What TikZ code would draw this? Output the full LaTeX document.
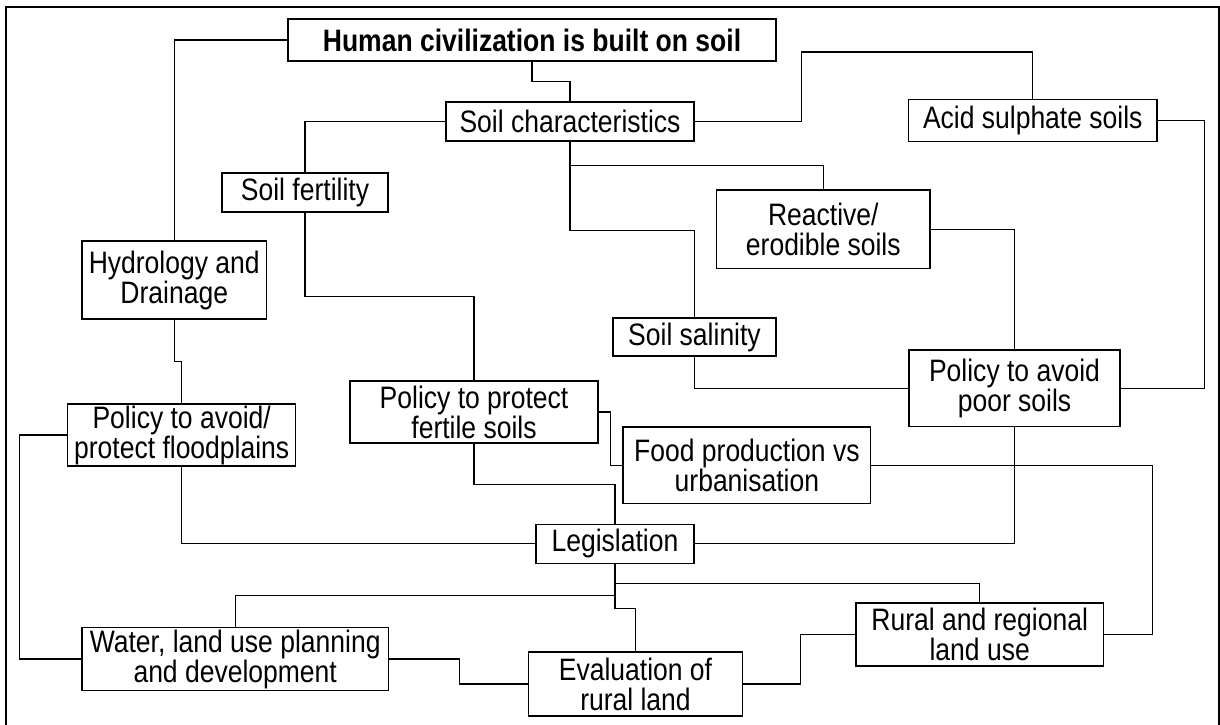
\documentclass[tikz,border=0pt]{standalone}
\usepackage{fontspec}
\setmainfont{Liberation Sans}
\newfontfamily\boxfont[FakeStretch=0.855]{Liberation Sans}
\usetikzlibrary{calc}
\tikzstyle{box}=[rectangle,draw=black,fill=white,line width=0.7pt,inner sep=0pt,
  align=center,font=\boxfont\fontsize{15.5}{15}\selectfont]
\tikzstyle{link}=[line width=0.55pt]
\tikzstyle{frame}=[line width=0.65pt]
\begin{document}
\begin{tikzpicture}[x=0.5pt, y=-0.5pt]
            \useasboundingbox (0,0) rectangle (1220,724);
            \draw [style=frame] (6,726) -- (6,7) -- (1219,7) -- (1219,726);
            \node [style=box, minimum width=244pt, minimum height=21pt] (hum) at (532, 40) {\textbf{Human civilization is built on soil}};
            \node [style=box, minimum width=124pt, minimum height=19.5pt] (soilchar) at (570, 121.5) {Soil characteristics};
            \node [style=box, minimum width=83pt, minimum height=19.5pt] (fert) at (305, 192.5) {Soil fertility};
            \node [style=box, minimum width=92.25pt, minimum height=39pt] (hydro) at (174.25, 280) {Hydrology and\\Drainage};
            \node [style=box, minimum width=124.25pt, minimum height=21pt] (acid) at (1032.75, 120.3) {Acid sulphate soils};
            \node [style=box, minimum width=106.7pt, minimum height=39.15pt] (reactive) at (823.3, 229.2) {Reactive/\\erodible soils};
            \node [style=box, minimum width=81.5pt, minimum height=19pt] (salinity) at (694.5, 337) {Soil salinity};
            \node [style=box, minimum width=105.5pt, minimum height=38.15pt] (poor) at (1014.5, 388.2) {Policy to avoid\\poor soils};
            \node [style=box, minimum width=124pt, minimum height=31pt] (protect) at (474, 412) {Policy to protect\\fertile soils};
            \node [style=box, minimum width=123.85pt, minimum height=38.35pt] (food) at (746.9, 465.3) {Food production vs\\urbanisation};
            \node [style=box, minimum width=114pt, minimum height=31pt] (flood) at (181.7, 435) {Policy to avoid/\\protect floodplains};
            \node [style=box, minimum width=79pt, minimum height=19.5pt] (legis) at (615, 543.8) {Legislation};
            \node [style=box, minimum width=153.15pt, minimum height=31.3pt] (water) at (235.2, 659) {Water, land use planning\\and development};
            \node [style=box, minimum width=107.15pt, minimum height=32pt] (eval) at (635.5, 684) {Evaluation of\\rural land};
            \node [style=box, minimum width=123.7pt, minimum height=31.5pt] (rural) at (979.7, 634.5) {Rural and regional\\land use};
            % top half
            \draw [style=link] (hum.west) -| (hydro.north);
            \draw [style=link] (hum.south) -- ++(0,20) -| (soilchar.north);
            \draw [style=link] (soilchar.west) -| (fert.north);
            \draw [style=link] (soilchar.south) -- ++(0,23.5) -| (reactive.north);
            \draw [style=link] (soilchar.south) -- ++(0,88.5) -| (salinity.north);
            \draw [style=link] (soilchar.east) -| ++(107,-69.5) -| (acid.north);
            \draw [style=link] (acid.east) -- ++(47,0) |- (poor.east);
            \draw [style=link] (reactive.east) -| (poor.north);
            \draw [style=link] (salinity.south) |- (poor.west);
            \draw [style=link] (fert.south) -- ++(0,84) -| (protect.north);
            \draw [style=link] (hydro.south) -- ++(0,42) -| (flood.north);
            % bottom half
            \draw [style=link] (protect.east) -- ++(12,0) |- (food.west);
            \draw [style=link] (protect.south) -- ++(0,40.7) -| (legis.north);
            \draw [style=link] (flood.south) |- (legis.west);
            \draw [style=link] (poor.south) |- (legis.east);
            \draw [style=link] (food.east) -- ++(281,0) |- (rural.east);
            \draw [style=link] (flood.west) -- ++(-47.5,0) |- (water.west);
            \draw [style=link] (legis.south) -- ++(0,19.5) -| (rural.north);
            \draw [style=link] (legis.south) -- ++(0,31.7) -| (water.north);
            \draw [style=link] (legis.south) -- ++(0,44.4) -| (eval.north);
            \draw [style=link] (water.east) -- ++(70,0) |- (eval.west);
            \draw [style=link] (eval.east) -- ++(56.8,0) |- (rural.west);
\end{tikzpicture}
\end{document}
